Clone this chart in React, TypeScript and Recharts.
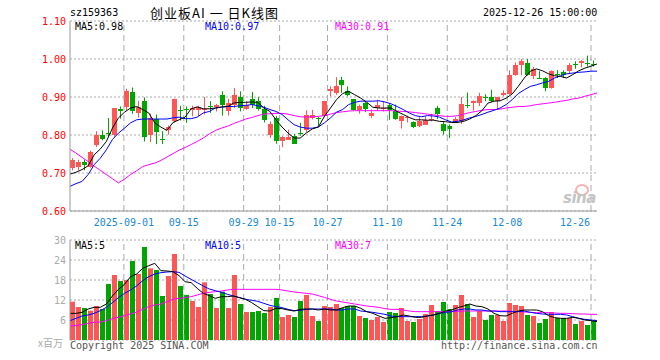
import {
  ComposedChart, Bar, Line, XAxis, YAxis, CartesianGrid, ReferenceLine,
} from 'recharts';

const dates = [
  '2025-08-19', '2025-08-20', '2025-08-21', '2025-08-22', '2025-08-25', '2025-08-26', '2025-08-27', '2025-08-28', '2025-08-29',
  '2025-09-01', '2025-09-02', '2025-09-03', '2025-09-04', '2025-09-05', '2025-09-08', '2025-09-09', '2025-09-10', '2025-09-11', '2025-09-12',
  '2025-09-15', '2025-09-16', '2025-09-17', '2025-09-18', '2025-09-19', '2025-09-22', '2025-09-23', '2025-09-24', '2025-09-25', '2025-09-26',
  '2025-09-29', '2025-09-30', '2025-10-09', '2025-10-10', '2025-10-13', '2025-10-14', '2025-10-15', '2025-10-16', '2025-10-17',
  '2025-10-20', '2025-10-21', '2025-10-22', '2025-10-23', '2025-10-24', '2025-10-27', '2025-10-28', '2025-10-29', '2025-10-30', '2025-10-31',
  '2025-11-03', '2025-11-04', '2025-11-05', '2025-11-06', '2025-11-07', '2025-11-10', '2025-11-11', '2025-11-12', '2025-11-13', '2025-11-14',
  '2025-11-17', '2025-11-18', '2025-11-19', '2025-11-20', '2025-11-21', '2025-11-24', '2025-11-25', '2025-11-26', '2025-11-27', '2025-11-28',
  '2025-12-01', '2025-12-02', '2025-12-03', '2025-12-04', '2025-12-05', '2025-12-08', '2025-12-09', '2025-12-10', '2025-12-11', '2025-12-12',
  '2025-12-15', '2025-12-16', '2025-12-17', '2025-12-18', '2025-12-19', '2025-12-22', '2025-12-23', '2025-12-24', '2025-12-25', '2025-12-26',
];

const opens = [
  0.713, 0.716, 0.728, 0.716, 0.775, 0.799, 0.804, 0.799, 0.868, 0.875,
  0.912, 0.858, 0.890, 0.799, 0.843, 0.790, 0.812, 0.836, 0.866, 0.868,
  0.867, 0.867, 0.865, 0.876, 0.875, 0.906, 0.862, 0.880, 0.899, 0.869,
  0.895, 0.889, 0.869, 0.801, 0.846, 0.783, 0.788, 0.797, 0.805, 0.814,
  0.845, 0.844, 0.849, 0.917, 0.911, 0.946, 0.917, 0.895, 0.865, 0.884,
  0.849, 0.871, 0.870, 0.878, 0.862, 0.836, 0.846, 0.833, 0.823, 0.827,
  0.842, 0.871, 0.830, 0.823, 0.832, 0.838, 0.878, 0.884, 0.884, 0.901,
  0.900, 0.889, 0.906, 0.909, 0.957, 0.983, 0.989, 0.956, 0.951, 0.950,
  0.924, 0.960, 0.966, 0.968, 0.988, 0.989, 0.990, 0.988,
];
const highs = [
  0.739, 0.735, 0.735, 0.759, 0.810, 0.812, 0.845, 0.871, 0.875, 0.922,
  0.925, 0.890, 0.899, 0.856, 0.854, 0.810, 0.825, 0.896, 0.877, 0.875,
  0.877, 0.877, 0.900, 0.889, 0.882, 0.915, 0.895, 0.924, 0.915, 0.889,
  0.913, 0.900, 0.877, 0.836, 0.850, 0.797, 0.814, 0.803, 0.832, 0.865,
  0.866, 0.847, 0.890, 0.928, 0.952, 0.953, 0.928, 0.895, 0.880, 0.888,
  0.867, 0.893, 0.888, 0.884, 0.880, 0.851, 0.851, 0.836, 0.847, 0.849,
  0.856, 0.877, 0.836, 0.828, 0.847, 0.900, 0.912, 0.891, 0.911, 0.907,
  0.919, 0.900, 0.918, 0.970, 0.991, 1.000, 1.000, 0.979, 0.968, 0.952,
  0.970, 0.971, 0.970, 0.989, 0.994, 0.997, 1.009, 0.996,
];
const lows = [
  0.707, 0.707, 0.707, 0.714, 0.768, 0.786, 0.796, 0.796, 0.843, 0.864,
  0.856, 0.846, 0.783, 0.781, 0.776, 0.776, 0.801, 0.833, 0.838, 0.832,
  0.849, 0.849, 0.854, 0.858, 0.862, 0.851, 0.851, 0.871, 0.862, 0.866,
  0.871, 0.864, 0.833, 0.792, 0.777, 0.768, 0.788, 0.777, 0.798, 0.807,
  0.841, 0.821, 0.847, 0.902, 0.906, 0.911, 0.902, 0.864, 0.856, 0.860,
  0.845, 0.864, 0.862, 0.840, 0.840, 0.817, 0.833, 0.818, 0.821, 0.827,
  0.836, 0.842, 0.801, 0.792, 0.832, 0.829, 0.871, 0.864, 0.876, 0.889,
  0.886, 0.868, 0.902, 0.906, 0.956, 0.957, 0.956, 0.947, 0.948, 0.915,
  0.922, 0.950, 0.950, 0.963, 0.974, 0.978, 0.980, 0.980,
];
const closes = [
  0.733, 0.730, 0.722, 0.756, 0.801, 0.790, 0.802, 0.871, 0.863, 0.915,
  0.862, 0.875, 0.794, 0.845, 0.807, 0.788, 0.821, 0.895, 0.864, 0.865,
  0.871, 0.875, 0.869, 0.874, 0.880, 0.880, 0.884, 0.906, 0.871, 0.880,
  0.880, 0.869, 0.840, 0.830, 0.783, 0.796, 0.796, 0.777, 0.803, 0.853,
  0.853, 0.842, 0.889, 0.920, 0.928, 0.932, 0.906, 0.867, 0.877, 0.869,
  0.858, 0.880, 0.871, 0.867, 0.843, 0.849, 0.847, 0.820, 0.838, 0.840,
  0.843, 0.854, 0.810, 0.816, 0.843, 0.882, 0.876, 0.890, 0.902, 0.899,
  0.889, 0.899, 0.911, 0.959, 0.985, 0.996, 0.959, 0.974, 0.949, 0.924,
  0.968, 0.958, 0.959, 0.985, 0.986, 0.996, 0.988, 0.986,
];

// volume, millions of shares
const volumes = [
  11.5, 9.9, 9.6, 8.8, 10.2, 9.3, 16.8, 19.5, 17.7, 18.0,
  23.7, 19.8, 27.9, 21.5, 21.0, 13.2, 19.2, 25.8, 16.2, 13.5,
  11.7, 9.9, 17.3, 13.8, 9.6, 14.5, 9.6, 19.5, 10.8, 8.4,
  8.4, 8.7, 8.1, 9.9, 12.6, 6.9, 7.5, 6.9, 11.7, 13.5,
  7.2, 5.7, 10.2, 9.9, 10.8, 9.6, 10.2, 10.2, 7.2, 6.6,
  6.0, 6.9, 5.4, 8.4, 8.1, 9.6, 5.7, 5.4, 6.3, 7.8,
  10.5, 8.7, 11.4, 9.3, 10.5, 13.5, 10.8, 6.9, 8.7, 6.0,
  7.5, 7.5, 5.7, 11.1, 10.5, 10.2, 7.5, 7.2, 5.1, 6.3,
  8.4, 6.6, 6.6, 6.6, 4.8, 5.7, 4.5, 5.7,
];

const ma5 = [
  0.697, 0.702, 0.709, 0.719, 0.748, 0.763, 0.783, 0.818, 0.845, 0.860,
  0.871, 0.875, 0.867, 0.858, 0.832, 0.821, 0.812, 0.833, 0.840, 0.847,
  0.869, 0.874, 0.869, 0.869, 0.871, 0.874, 0.875, 0.884, 0.886, 0.886,
  0.887, 0.886, 0.871, 0.862, 0.840, 0.821, 0.805, 0.792, 0.792, 0.805,
  0.816, 0.821, 0.849, 0.871, 0.893, 0.909, 0.915, 0.906, 0.897, 0.886,
  0.873, 0.871, 0.871, 0.871, 0.862, 0.854, 0.846, 0.840, 0.840, 0.839,
  0.839, 0.836, 0.835, 0.833, 0.833, 0.836, 0.842, 0.851, 0.864, 0.884,
  0.889, 0.890, 0.897, 0.908, 0.928, 0.950, 0.968, 0.974, 0.969, 0.961,
  0.956, 0.954, 0.950, 0.959, 0.969, 0.976, 0.981, 0.987,
];
const ma10 = [
  0.665, 0.672, 0.678, 0.696, 0.722, 0.739, 0.761, 0.788, 0.805, 0.818,
  0.832, 0.840, 0.842, 0.842, 0.842, 0.842, 0.842, 0.845, 0.847, 0.843,
  0.843, 0.847, 0.858, 0.862, 0.871, 0.873, 0.875, 0.875, 0.877, 0.878,
  0.880, 0.877, 0.873, 0.867, 0.862, 0.854, 0.840, 0.827, 0.821, 0.818,
  0.818, 0.821, 0.832, 0.845, 0.860, 0.867, 0.880, 0.886, 0.889, 0.889,
  0.889, 0.890, 0.887, 0.882, 0.875, 0.867, 0.858, 0.851, 0.848, 0.851,
  0.850, 0.847, 0.840, 0.834, 0.836, 0.840, 0.845, 0.849, 0.854, 0.860,
  0.865, 0.871, 0.880, 0.893, 0.909, 0.919, 0.928, 0.932, 0.937, 0.941,
  0.950, 0.956, 0.961, 0.963, 0.965, 0.966, 0.968, 0.968,
];
const ma30 = [
  0.763, 0.752, 0.741, 0.730, 0.718, 0.707, 0.696, 0.685, 0.674, 0.684,
  0.696, 0.706, 0.717, 0.722, 0.726, 0.733, 0.742, 0.751, 0.760, 0.767,
  0.775, 0.783, 0.792, 0.803, 0.812, 0.818, 0.823, 0.830, 0.836, 0.842,
  0.846, 0.851, 0.855, 0.856, 0.857, 0.857, 0.855, 0.851, 0.848, 0.847,
  0.848, 0.849, 0.851, 0.855, 0.859, 0.861, 0.863, 0.864, 0.864, 0.864,
  0.864, 0.864, 0.864, 0.864, 0.863, 0.862, 0.861, 0.859, 0.857, 0.855,
  0.853, 0.851, 0.849, 0.849, 0.851, 0.855, 0.859, 0.862, 0.865, 0.867,
  0.867, 0.868, 0.871, 0.873, 0.875, 0.875, 0.877, 0.880, 0.882, 0.884,
  0.886, 0.889, 0.891, 0.895, 0.897, 0.902, 0.906, 0.911,
];

const volMa5 = [
  8.0, 8.0, 8.3, 9.3, 9.8, 9.8, 10.8, 13.2, 15.2, 16.7,
  19.0, 19.8, 21.5, 22.3, 23.0, 20.8, 20.7, 20.5, 19.3, 17.5,
  17.2, 15.5, 14.0, 13.3, 12.5, 13.0, 13.0, 13.2, 12.7, 12.2,
  11.2, 10.0, 8.8, 8.7, 9.5, 9.4, 9.0, 8.7, 9.2, 9.3,
  9.3, 9.0, 9.3, 9.0, 9.0, 9.7, 10.2, 10.2, 9.5, 8.5,
  8.0, 7.2, 6.5, 6.7, 7.0, 7.5, 7.2, 6.8, 6.8, 7.2,
  7.5, 8.0, 8.7, 9.0, 9.7, 10.2, 10.8, 10.2, 10.0, 9.3,
  8.0, 7.3, 7.2, 8.0, 8.7, 9.0, 9.0, 9.0, 8.5, 7.3,
  6.7, 6.5, 6.5, 6.8, 6.5, 6.0, 5.8, 5.5,
];
const volMa10 = [
  5.8, 6.5, 7.2, 7.5, 8.0, 8.8, 9.8, 11.2, 12.7, 14.0,
  15.0, 16.2, 17.8, 19.0, 19.8, 20.2, 20.4, 20.5, 20.3, 19.2,
  18.2, 17.2, 16.2, 15.3, 14.8, 14.3, 13.7, 13.2, 12.7, 12.2,
  11.9, 11.6, 11.0, 10.4, 10.0, 9.7, 9.2, 8.8, 8.9, 9.2,
  9.3, 9.3, 9.3, 9.3, 9.0, 9.0, 9.3, 9.3, 8.7, 8.5,
  8.3, 8.0, 7.7, 7.2, 7.0, 7.0, 7.0, 7.0, 7.0, 7.2,
  7.5, 8.0, 8.3, 8.5, 9.0, 9.3, 9.3, 9.0, 9.0, 8.7,
  8.7, 8.5, 8.5, 8.5, 8.5, 8.7, 8.3, 8.0, 7.8, 7.7,
  7.7, 7.7, 7.5, 7.0, 6.5, 6.2, 6.0, 5.8,
];
const volMa30 = [
  4.2, 4.4, 4.6, 5.0, 5.3, 5.4, 5.8, 6.4, 6.8, 7.3,
  7.8, 8.4, 9.2, 10.0, 10.5, 10.8, 11.5, 12.2, 12.5, 12.7,
  13.0, 13.5, 14.0, 14.3, 14.5, 14.7, 15.0, 15.2, 15.2, 15.2,
  15.2, 15.2, 15.2, 15.2, 15.2, 15.0, 14.7, 14.4, 14.2, 14.0,
  13.8, 13.3, 12.8, 12.2, 11.7, 11.4, 11.1, 10.8, 10.5, 10.2,
  10.0, 9.8, 9.4, 9.2, 9.2, 9.0, 8.7, 8.5, 8.5, 8.5,
  8.5, 8.5, 8.5, 8.5, 8.6, 8.7, 8.7, 8.7, 8.7, 8.7,
  8.7, 8.7, 8.7, 8.6, 8.5, 8.4, 8.3, 8.2, 8.2, 8.2,
  8.1, 8.0, 8.0, 7.9, 7.8, 7.8, 7.7, 7.7,
];

const tickDates = ['2025-09-01', '2025-09-15', '2025-09-29', '2025-10-15', '2025-10-27', '2025-11-10', '2025-11-24', '2025-12-08', '2025-12-26'];
const tickLabels = ['2025-09-01', '09-15', '09-29', '10-15', '10-27', '11-10', '11-24', '12-08', '12-26'];
const priceTicks = [0.6, 0.7, 0.8, 0.9, 1.0, 1.1];
const volTicks = [6, 12, 18, 24, 30];

const RED = '#ff5555';
const GREEN = '#00a600';
const GRID = '#aaaaaa';
const BORDER = '#999999';
const MONO = '"DejaVu Sans Mono", "Liberation Mono", monospace';

const rows = dates.map((date, i) => ({
  idx: i,
  date,
  open: opens[i],
  high: highs[i],
  low: lows[i],
  close: closes[i],
  vol: volumes[i],
  ma5: ma5[i],
  ma10: ma10[i],
  ma30: ma30[i],
  vma5: volMa5[i],
  vma10: volMa10[i],
  vma30: volMa30[i],
}));

function Candle(props: any) {
  const { x, y, width, height, payload } = props;
  const { open, close, high, low } = payload;
  const color = close >= open ? RED : GREEN;
  const top0 = Math.min(y, y + height);
  const h = Math.abs(height);
  const yOf = (v: number) => top0 + ((high - v) / (high - low || 1)) * h;
  const cx = Math.floor(x + width / 2) + 0.5;
  const bTop = Math.round(yOf(Math.max(open, close)));
  const bBot = Math.round(yOf(Math.min(open, close)));
  return (
    <g>
      <line x1={cx} x2={cx} y1={top0} y2={top0 + h} stroke={color} strokeWidth={1} />
      <rect x={cx - 2.5} y={bTop} width={5} height={Math.max(1, bBot - bTop)} fill={color} />
    </g>
  );
}

function VolBar(props: any) {
  const { x, y, width, height, payload } = props;
  const color = payload.close >= payload.open ? RED : GREEN;
  const cx = Math.floor(x + width / 2) + 0.5;
  return <rect x={cx - 2.5} y={y} width={5} height={height} fill={color} />;
}

function DateTick({ x, y, payload }: any) {
  const i = tickDates.indexOf(payload.value);
  const last = i === tickDates.length - 1;
  return (
    <text
      x={last ? x - 4 : x - 3}
      y={y}
      dy="0.71em"
      textAnchor={last ? 'end' : 'middle'}
      fill="#1a8ad4"
      fontSize={10}
      fontFamily={MONO}
    >
      {tickLabels[i]}
    </text>
  );
}

const label = (left: number, top: number, color: string, text: string, extra: any = {}) => (
  <div style={{
    position: 'absolute', left, top, color, fontFamily: MONO, fontSize: 10,
    lineHeight: '10px', whiteSpace: 'nowrap', ...extra,
  }}>{text}</div>
);

export default function App() {
  return (
    <div style={{ position: 'absolute', left: 0, top: 0, width: 660, height: 360, background: '#fff', overflow: 'hidden' }}>
      {label(70, 8, '#000', 'sz159363')}
      <div style={{
        position: 'absolute', left: 150, top: 5, fontFamily: '"Noto Sans CJK SC", sans-serif',
        fontSize: 13, lineHeight: '16px', color: '#000', whiteSpace: 'nowrap', letterSpacing: 1,
      }}>创业板AI&nbsp;一&nbsp;日K线图</div>
      {label(483, 8, '#000', '2025-12-26 15:00:00')}

      <div style={{ position: 'absolute', left: 0, top: 0 }}>
        <ComposedChart width={660} height={232} data={rows} margin={{ top: 21, right: 63, bottom: 1, left: 0 }}>
          <XAxis xAxisId="cat" dataKey="date" ticks={tickDates} interval={0} tick={<DateTick />}
            tickLine={false} axisLine={{ stroke: BORDER }} height={20} />
          <XAxis xAxisId="pt" type="number" dataKey="idx" domain={[0, 87]} hide />
          <XAxis xAxisId="top" dataKey="date" orientation="top" height={0} tick={false} tickLine={false}
            axisLine={{ stroke: BORDER }} />
          <YAxis yAxisId="p" domain={[0.6, 1.1]} ticks={priceTicks} width={70} tickLine={false} tickSize={4}
            tickMargin={0} axisLine={{ stroke: BORDER }} tickFormatter={(v: number) => v.toFixed(2)}
            tick={{ fill: '#ff0000', fontSize: 10, fontFamily: MONO }} interval={0} />
          <YAxis yAxisId="r" orientation="right" domain={[0.6, 1.1]} width={0} tick={false} tickLine={false}
            axisLine={{ stroke: BORDER }} />
          <CartesianGrid xAxisId="cat" yAxisId="p" vertical={false} stroke={GRID} strokeDasharray="2 2" />
          {tickDates.map(d => (
            <ReferenceLine key={d} xAxisId="cat" yAxisId="p" x={d} position="start" stroke={GRID} strokeDasharray="6 4" />
          ))}
          <Bar xAxisId="cat" yAxisId="p" dataKey={(d: any) => [d.low, d.high]} barSize={5}
            shape={<Candle />} isAnimationActive={false} />
          <Line xAxisId="pt" yAxisId="p" dataKey="ma30" stroke="#ff00ff" dot={false} strokeWidth={1} isAnimationActive={false} />
          <Line xAxisId="pt" yAxisId="p" dataKey="ma10" stroke="#0000ff" dot={false} strokeWidth={1} isAnimationActive={false} />
          <Line xAxisId="pt" yAxisId="p" dataKey="ma5" stroke="#000000" dot={false} strokeWidth={1} isAnimationActive={false} />
        </ComposedChart>
      </div>

      {label(75, 22, '#000', 'MA5:0.98')}
      {label(205, 22, '#0000ff', 'MA10:0.97')}
      {label(335, 22, '#ff00ff', 'MA30:0.91')}

      {/* sina watermark */}
      <div style={{
        position: 'absolute', left: 575, top: 184, width: 10, height: 8, borderRadius: '50%',
        border: '2px solid #f2a0a0', opacity: 0.8,
      }} />
      <div style={{
        position: 'absolute', left: 563, top: 190, fontFamily: '"DejaVu Sans", sans-serif', fontWeight: 'bold',
        fontStyle: 'italic', fontSize: 15, lineHeight: '16px', color: '#c4c4c4', letterSpacing: -0.5,
      }}>sina</div>

      <div style={{ position: 'absolute', left: 0, top: 230 }}>
        <ComposedChart width={660} height={130} data={rows} margin={{ top: 10, right: 63, bottom: 20, left: 0 }}>
          <XAxis xAxisId="cat" dataKey="date" height={0} tick={false} tickLine={false} axisLine={{ stroke: BORDER }} />
          <XAxis xAxisId="pt" type="number" dataKey="idx" domain={[0, 87]} hide />
          <XAxis xAxisId="top" dataKey="date" orientation="top" height={0} tick={false} tickLine={false}
            axisLine={{ stroke: BORDER }} />
          <YAxis yAxisId="v" domain={[0, 30]} ticks={volTicks} width={70} tickLine={false} tickSize={4}
            tickMargin={0} axisLine={{ stroke: BORDER }} interval={0}
            tick={{ fill: '#aaaaaa', fontSize: 10, fontFamily: MONO }} />
          <YAxis yAxisId="r" orientation="right" domain={[0, 30]} width={0} tick={false} tickLine={false}
            axisLine={{ stroke: BORDER }} />
          <CartesianGrid xAxisId="cat" yAxisId="v" vertical={false} stroke={GRID} strokeDasharray="2 2" />
          {tickDates.map(d => (
            <ReferenceLine key={d} xAxisId="cat" yAxisId="v" x={d} position="start" stroke={GRID} strokeDasharray="6 4" />
          ))}
          <Bar xAxisId="cat" yAxisId="v" dataKey="vol" barSize={5} shape={<VolBar />} isAnimationActive={false} />
          <Line xAxisId="pt" yAxisId="v" dataKey="vma30" stroke="#ff00ff" dot={false} strokeWidth={1} isAnimationActive={false} />
          <Line xAxisId="pt" yAxisId="v" dataKey="vma10" stroke="#0000ff" dot={false} strokeWidth={1} isAnimationActive={false} />
          <Line xAxisId="pt" yAxisId="v" dataKey="vma5" stroke="#000000" dot={false} strokeWidth={1} isAnimationActive={false} />
        </ComposedChart>
      </div>

      {label(75, 241, '#000', 'MA5:5')}
      {label(205, 241, '#0000ff', 'MA10:5')}
      {label(335, 241, '#ff00ff', 'MA30:7')}

      <div style={{
        position: 'absolute', left: 38, top: 337, fontFamily: '"Noto Sans CJK SC", sans-serif', fontSize: 10,
        lineHeight: '12px', color: '#aaaaaa', whiteSpace: 'nowrap',
      }}>x百万</div>
      {label(70, 341, '#555555', 'Copyright 2025 SINA.COM')}
      {label(441, 341, '#555555', 'http://finance.sina.com.cn')}
    </div>
  );
}
